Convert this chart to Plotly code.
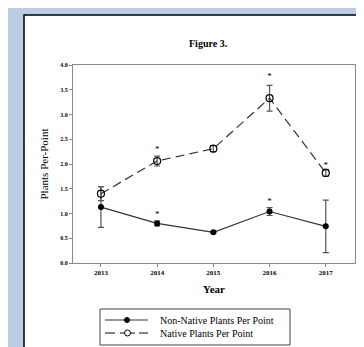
import plotly.graph_objects as go

years = [2013, 2014, 2015, 2016, 2017]
tick_labels = ["2013", "2014", "2015", "2016", "2017"]
nonnative = [1.13, 0.80, 0.62, 1.04, 0.74]
nonnative_err = [0.41, 0.05, 0.02, 0.08, 0.53]
native = [1.40, 2.06, 2.31, 3.33, 1.82]
native_err = [0.14, 0.10, 0.06, 0.26, 0.07]
star_years = [2014, 2016, 2014, 2016, 2017]
star_vals = [0.97, 1.23, 2.29, 3.77, 1.97]
legend_names = ["Non-Native Plants Per Point", "Native Plants Per Point"]

serif = "Liberation Serif"
W, H = 364, 347
ML, MR, MT, MB = 65, 17, 57, 92
PW, PH = W - ML - MR, H - MT - MB


def px(x):
    return (x - ML) / PW


def py(y):
    return (H - MB - y) / PH


fig = go.Figure()
fig.add_trace(go.Scatter(
    x=years, y=nonnative, name=legend_names[0],
    mode="lines+markers",
    line=dict(color="#333333", width=1.2),
    marker=dict(symbol="circle", size=6, color="black"),
    error_y=dict(type="data", array=nonnative_err, color="#555555", thickness=1.2, width=3),
    showlegend=False,
))
fig.add_trace(go.Scatter(
    x=years, y=native, name=legend_names[1],
    mode="lines+markers",
    line=dict(color="#333333", width=1.2, dash="9px,5px"),
    marker=dict(symbol="circle-open", size=7, color="black", line=dict(width=1.2)),
    error_y=dict(type="data", array=native_err, color="#555555", thickness=1.2, width=3),
    showlegend=False,
))
fig.add_trace(go.Scatter(
    x=star_years, y=star_vals, mode="text", text=["*"] * len(star_vals),
    textfont=dict(family=serif, size=9, color="black"), showlegend=False, hoverinfo="skip",
))

# white panel with black border
fig.add_shape(type="rect", xref="paper", yref="paper",
              x0=px(16), x1=px(380), y0=py(380), y1=py(7),
              line=dict(color="black", width=1.5), fillcolor="white", layer="below")

fig.add_annotation(text="<b>Figure 3.</b>", xref="paper", yref="paper",
                   x=px(200), y=py(28), showarrow=False,
                   font=dict(family=serif, size=10, color="black"))

# manual legend
fig.add_shape(type="rect", xref="paper", yref="paper",
              x0=px(92), x1=px(282), y0=py(337), y1=py(301),
              line=dict(color="#444444", width=1), fillcolor="white")
fig.add_shape(type="line", xref="paper", yref="paper",
              x0=px(97), x1=px(140), y0=py(312), y1=py(312),
              line=dict(color="#333333", width=1.2))
fig.add_shape(type="circle", xref="paper", yref="paper", xsizemode="pixel", ysizemode="pixel",
              xanchor=px(119), yanchor=py(312), x0=-2.5, x1=2.5, y0=-2.5, y1=2.5,
              line=dict(color="black", width=1), fillcolor="black")
for a, b in [(97, 107), (112, 116), (123, 127), (131, 140)]:
    fig.add_shape(type="line", xref="paper", yref="paper",
                  x0=px(a), x1=px(b), y0=py(325), y1=py(325),
                  line=dict(color="#333333", width=1.2))
fig.add_shape(type="circle", xref="paper", yref="paper", xsizemode="pixel", ysizemode="pixel",
              xanchor=px(119.5), yanchor=py(325), x0=-3, x1=3, y0=-3, y1=3,
              line=dict(color="black", width=1), fillcolor="white")
for yy, name in zip([312, 325], legend_names):
    fig.add_annotation(text=name, xref="paper", yref="paper", x=px(150), y=py(yy),
                       xanchor="left", yanchor="middle", showarrow=False,
                       font=dict(family=serif, size=10, color="black"))

fig.update_layout(
    width=W, height=H,
    margin=dict(l=ML, r=MR, t=MT, b=MB),
    paper_bgcolor="#b9cde5",
    plot_bgcolor="white",
    showlegend=False,
    xaxis=dict(
        range=[2012.503, 2017.52], tickvals=years, ticktext=[f"<b>{t}</b>" for t in tick_labels],
        showgrid=False, zeroline=False, showline=True, linecolor="#888888", linewidth=1,
        mirror=True, ticks="outside", ticklen=3, tickcolor="#888888",
        tickfont=dict(family=serif, size=7, color="black"),
        title=dict(text="<b>Year</b>", font=dict(family=serif, size=11, color="black"), standoff=8),
    ),
    yaxis=dict(
        range=[0, 4.0], tickvals=[0, 0.5, 1, 1.5, 2, 2.5, 3, 3.5, 4],
        ticktext=["<b>0.0</b>", "<b>0.5</b>", "<b>1.0</b>", "<b>1.5</b>", "<b>2.0</b>",
                  "<b>2.5</b>", "<b>3.0</b>", "<b>3.5</b>", "<b>4.0</b>"],
        showgrid=False, zeroline=False, showline=True, linecolor="#888888", linewidth=1,
        mirror=True, ticks="outside", ticklen=3, tickcolor="#888888",
        tickfont=dict(family=serif, size=6, color="black"),
        title=dict(text="Plants Per-Point", font=dict(family=serif, size=11, color="black"), standoff=9),
    ),
)

fig.write_html("out.html")
